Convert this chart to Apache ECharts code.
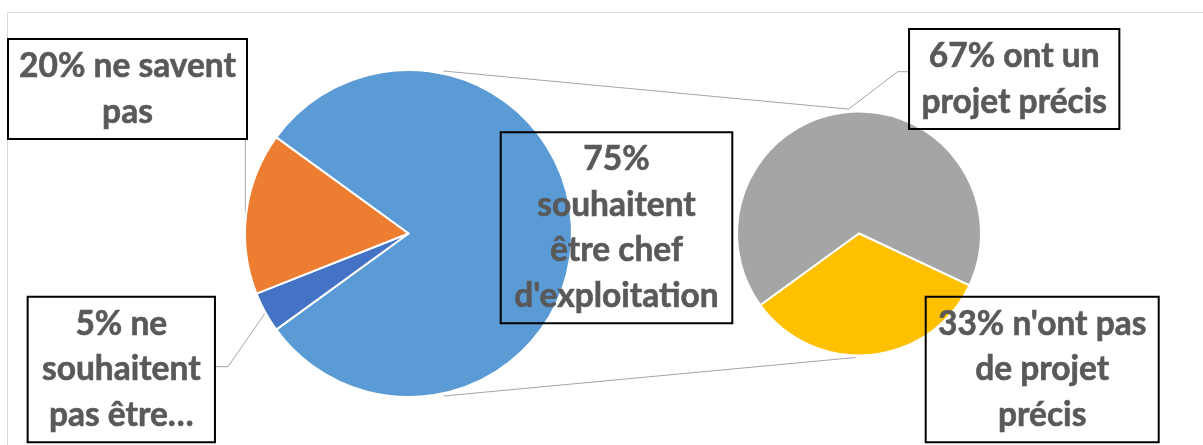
<!DOCTYPE html>
<html><head><meta charset="utf-8">
<script src="https://cdn.jsdelivr.net/npm/echarts@6/dist/echarts.min.js"></script>
<style>html,body{margin:0;padding:0;background:#fff}#c{width:1203px;height:445px}</style>
</head><body><div id="c"></div>
<script>
// ---- data (pie of pie: the blue split slice = 67 + 33 of the second pie) ----
const mainCategories = ["souhaitent être chef d'exploitation", "ne souhaitent pas être chef d'exploitation", "ne savent pas"];
const mainValues = [100, 5, 20];
const mainLabels = ["75%\nsouhaitent\nêtre chef\nd'exploitation", "5% ne\nsouhaitent\npas être…", "20% ne savent\npas"];
const subCategories = ["ont un projet précis", "n'ont pas de projet précis"];
const subValues = [67, 33];
const subLabels = ["67% ont un\nprojet précis", "33% n'ont pas\nde projet\nprécis"];

// ---- styling / layout ----
const mainColors = ['#5B9BD5', '#4472C4', '#ED7D31'];
const subColors = ['#A5A5A5', '#FFC000'];
const MAIN = {cx: 408.5, cy: 233.5, r: 162.5, start: 144};
const SUB = {cx: 859, cy: 233.5, r: 121, start: 216};
const LINE_H = 45.5, PAD_V = 4.5, PAD_H = 4;
const mainBoxes = [
  {cx: 616.5, top: 132.3, w: 231.6, leader: null},
  {cx: 121.3, top: 296.7, w: 187.3, leader: 'right', dy: 70, bend: 13},
  {cx: 127.5, top: 39, w: 239, leader: 'bottom'}
];
const subBoxes = [
  {cx: 1014.2, top: 29, w: 210.3, leader: 'left', dy: 42.7, bend: 11.3},
  {cx: 1042.2, top: 296.7, w: 233, leader: null}
];

function midPoint(geo, values, i, extra) {
  const total = values.reduce((a, b) => a + b, 0);
  let cum = 0;
  for (let k = 0; k < i; k++) cum += values[k];
  const ang = (geo.start - (cum + values[i] / 2) / total * 360) * Math.PI / 180;
  const r = geo.r + (extra || 0);
  return [geo.cx + r * Math.cos(ang), geo.cy - r * Math.sin(ang)];
}

function makeLayout(boxes, labels, geo, values) {
  return function (p) {
    const b = boxes[p.dataIndex];
    const res = {x: b.cx, y: b.top, align: 'center', verticalAlign: 'top'};
    if (b.leader) {
      const nLines = labels[p.dataIndex].split('\n').length;
      const h = nLines * LINE_H + PAD_V * 2;
      const left = b.cx - b.w / 2, right = b.cx + b.w / 2;
      const end = midPoint(geo, values, p.dataIndex, b.leader === 'left' ? 3 : 0);
      if (b.leader === 'bottom') {
        const x = end[0] - 2;
        res.labelLinePoints = [[x, b.top + h], [x, (b.top + h + end[1]) / 2], [x, end[1]]];
      } else if (b.leader === 'right') {
        const y = b.top + b.dy;
        res.labelLinePoints = [[right, y], [right + b.bend, y], end];
      } else {
        const y = b.top + b.dy;
        res.labelLinePoints = [[left, y], [left - b.bend, y], end];
      }
    }
    return res;
  };
}

function buildData(cats, vals, colors, labels, boxes) {
  return cats.map((name, i) => ({
    name: name,
    value: vals[i],
    itemStyle: {color: colors[i]},
    label: {formatter: labels[i], width: boxes[i].w - PAD_H * 2},
    labelLine: {show: !!boxes[i].leader}
  }));
}

const labelStyle = {
  show: true,
  position: 'outside',
  color: '#595959',
  fontFamily: 'Lato',
  fontWeight: 'bold',
  fontSize: 33.5,
  lineHeight: LINE_H,
  align: 'center',
  borderColor: '#000',
  borderWidth: 1,
  padding: [PAD_V, PAD_H],
  overflow: 'none',
  textBorderColor: '#595959',
  textBorderWidth: 0.6,
  backgroundColor: 'transparent'
};

const chart = echarts.init(document.getElementById('c'), null, {renderer: 'canvas'});
chart.setOption({
  animation: false,
  backgroundColor: '#fff',
  graphic: [
    {type: 'rect', z: -10, shape: {x: 7.5, y: 12.5, width: 1300, height: 500},
     style: {fill: 'none', stroke: '#D9D9D9', lineWidth: 1}},
    {type: 'line', z: -5, shape: {x1: MAIN.cx + 35, y1: MAIN.cy - MAIN.r, x2: SUB.cx - 11.5, y2: SUB.cy - SUB.r - 3.5},
     style: {stroke: '#A6A6A6', lineWidth: 1}},
    {type: 'line', z: -5, shape: {x1: MAIN.cx + 35, y1: MAIN.cy + MAIN.r, x2: SUB.cx - 3.5, y2: SUB.cy + SUB.r + 3},
     style: {stroke: '#A6A6A6', lineWidth: 1}}
  ],
  series: [
    {
      type: 'pie',
      center: [MAIN.cx, MAIN.cy],
      radius: [0, MAIN.r + 1],
      startAngle: MAIN.start,
      clockwise: true,
      avoidLabelOverlap: false,
      itemStyle: {borderColor: '#fff', borderWidth: 2},
      emphasis: {disabled: true},
      label: labelStyle,
      labelLine: {show: true, lineStyle: {color: '#A6A6A6', width: 1}},
      labelLayout: makeLayout(mainBoxes, mainLabels, MAIN, mainValues),
      data: buildData(mainCategories, mainValues, mainColors, mainLabels, mainBoxes)
    },
    {
      type: 'pie',
      center: [SUB.cx, SUB.cy],
      radius: [0, SUB.r + 1],
      startAngle: SUB.start,
      clockwise: true,
      avoidLabelOverlap: false,
      itemStyle: {borderColor: '#fff', borderWidth: 2},
      emphasis: {disabled: true},
      label: labelStyle,
      labelLine: {show: true, lineStyle: {color: '#A6A6A6', width: 1}},
      labelLayout: makeLayout(subBoxes, subLabels, SUB, subValues),
      data: buildData(subCategories, subValues, subColors, subLabels, subBoxes)
    }
  ]
});
</script>
</body></html>
